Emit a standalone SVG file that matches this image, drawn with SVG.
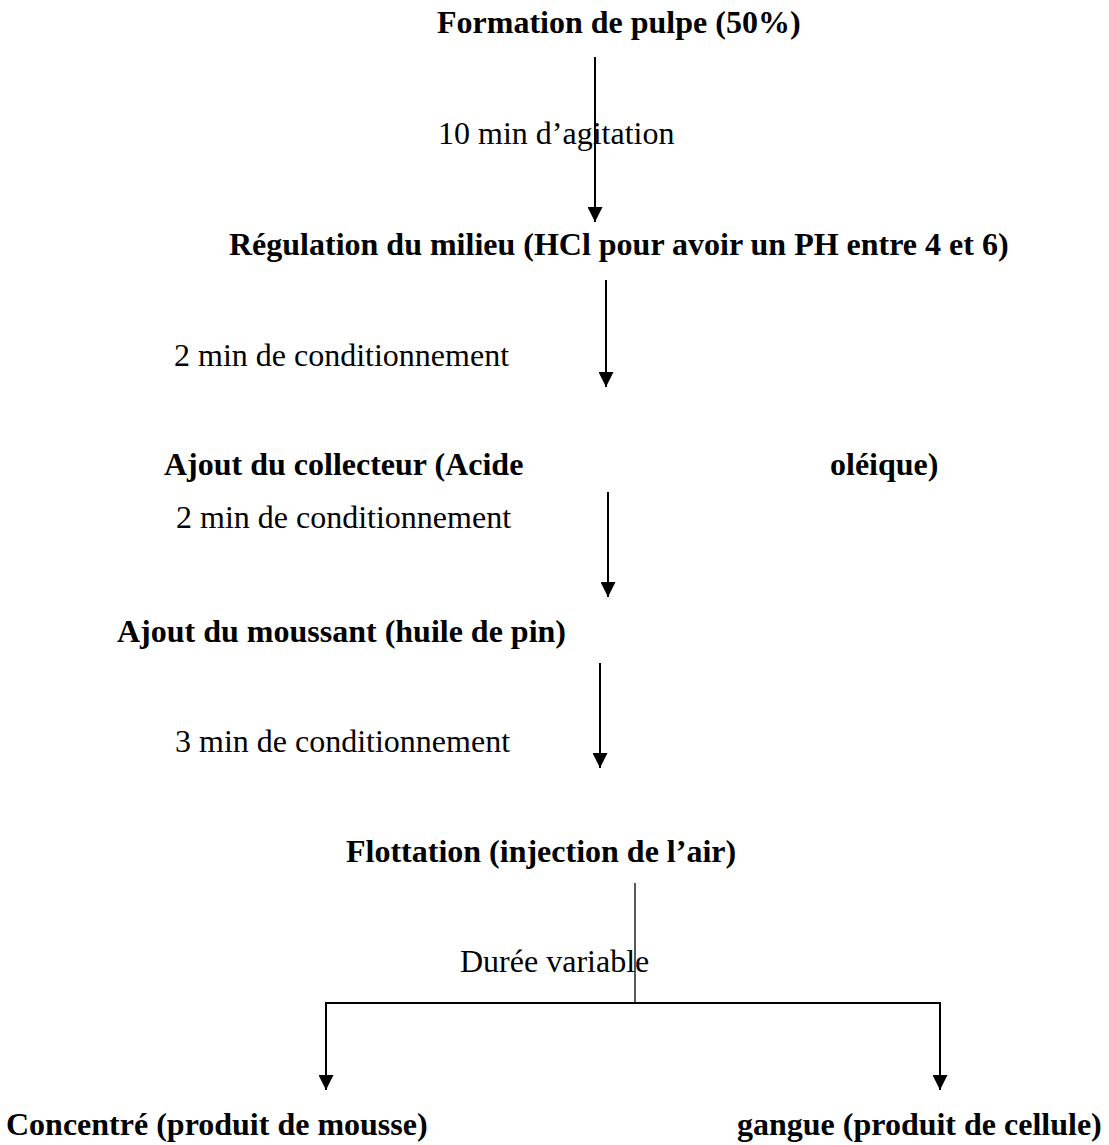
<svg xmlns="http://www.w3.org/2000/svg" width="1109" height="1145" viewBox="0 0 1109 1145">
<defs>
<style>
text{font-family:"Liberation Serif","Times New Roman",serif;font-size:32px;fill:#000}
.b{font-weight:bold}
.ln{stroke:#000;stroke-width:2;fill:none}
.thin{stroke:#000;stroke-width:1.3;fill:none}
</style>
<marker id="ah" viewBox="0 0 15 15" markerWidth="15" markerHeight="15" refX="15" refY="7.5" orient="auto" markerUnits="userSpaceOnUse">
<path d="M0,0 L15,7.5 L0,15 z" fill="#000"/>
</marker>
</defs>
<rect width="1109" height="1145" fill="#fff"/>
<g id="n1"><text class="b" x="437" y="33">Formation de pulpe (50%)</text></g>
<g id="n2"><text class="b" x="229" y="255">Régulation du milieu (HCl pour avoir un PH entre 4 et 6)</text></g>
<g id="n3"><text class="b" x="164" y="475">Ajout du collecteur (Acide</text><text class="b" x="830" y="475">oléique)</text></g>
<g id="n4"><text class="b" x="117" y="642">Ajout du moussant (huile de pin)</text></g>
<g id="n5"><text class="b" x="346" y="862">Flottation (injection de l’air)</text></g>
<g id="n6"><text class="b" x="6" y="1135">Concentré (produit de mousse)</text></g>
<g id="n7"><text class="b" x="737" y="1135">gangue (produit de cellule)</text></g>
<g id="connectors">
<line class="ln" x1="595" y1="57" x2="595" y2="222" marker-end="url(#ah)"/>
<line class="ln" x1="606" y1="280" x2="606" y2="387" marker-end="url(#ah)"/>
<line class="ln" x1="608" y1="492" x2="608" y2="597" marker-end="url(#ah)"/>
<line class="ln" x1="600" y1="663" x2="600" y2="768" marker-end="url(#ah)"/>
<line class="thin" x1="635" y1="883" x2="635" y2="1003"/>
<line class="ln" x1="325" y1="1003" x2="941" y2="1003"/>
<line class="ln" x1="326" y1="1003" x2="326" y2="1090" marker-end="url(#ah)"/>
<line class="ln" x1="940" y1="1003" x2="940" y2="1090" marker-end="url(#ah)"/>
</g>
<g id="labels">
<text x="438" y="144">10 min d’agitation</text>
<text x="174" y="366">2 min de conditionnement</text>
<text x="176" y="528">2 min de conditionnement</text>
<text x="175" y="752">3 min de conditionnement</text>
<text x="460" y="972">Durée variable</text>
</g>
</svg>
